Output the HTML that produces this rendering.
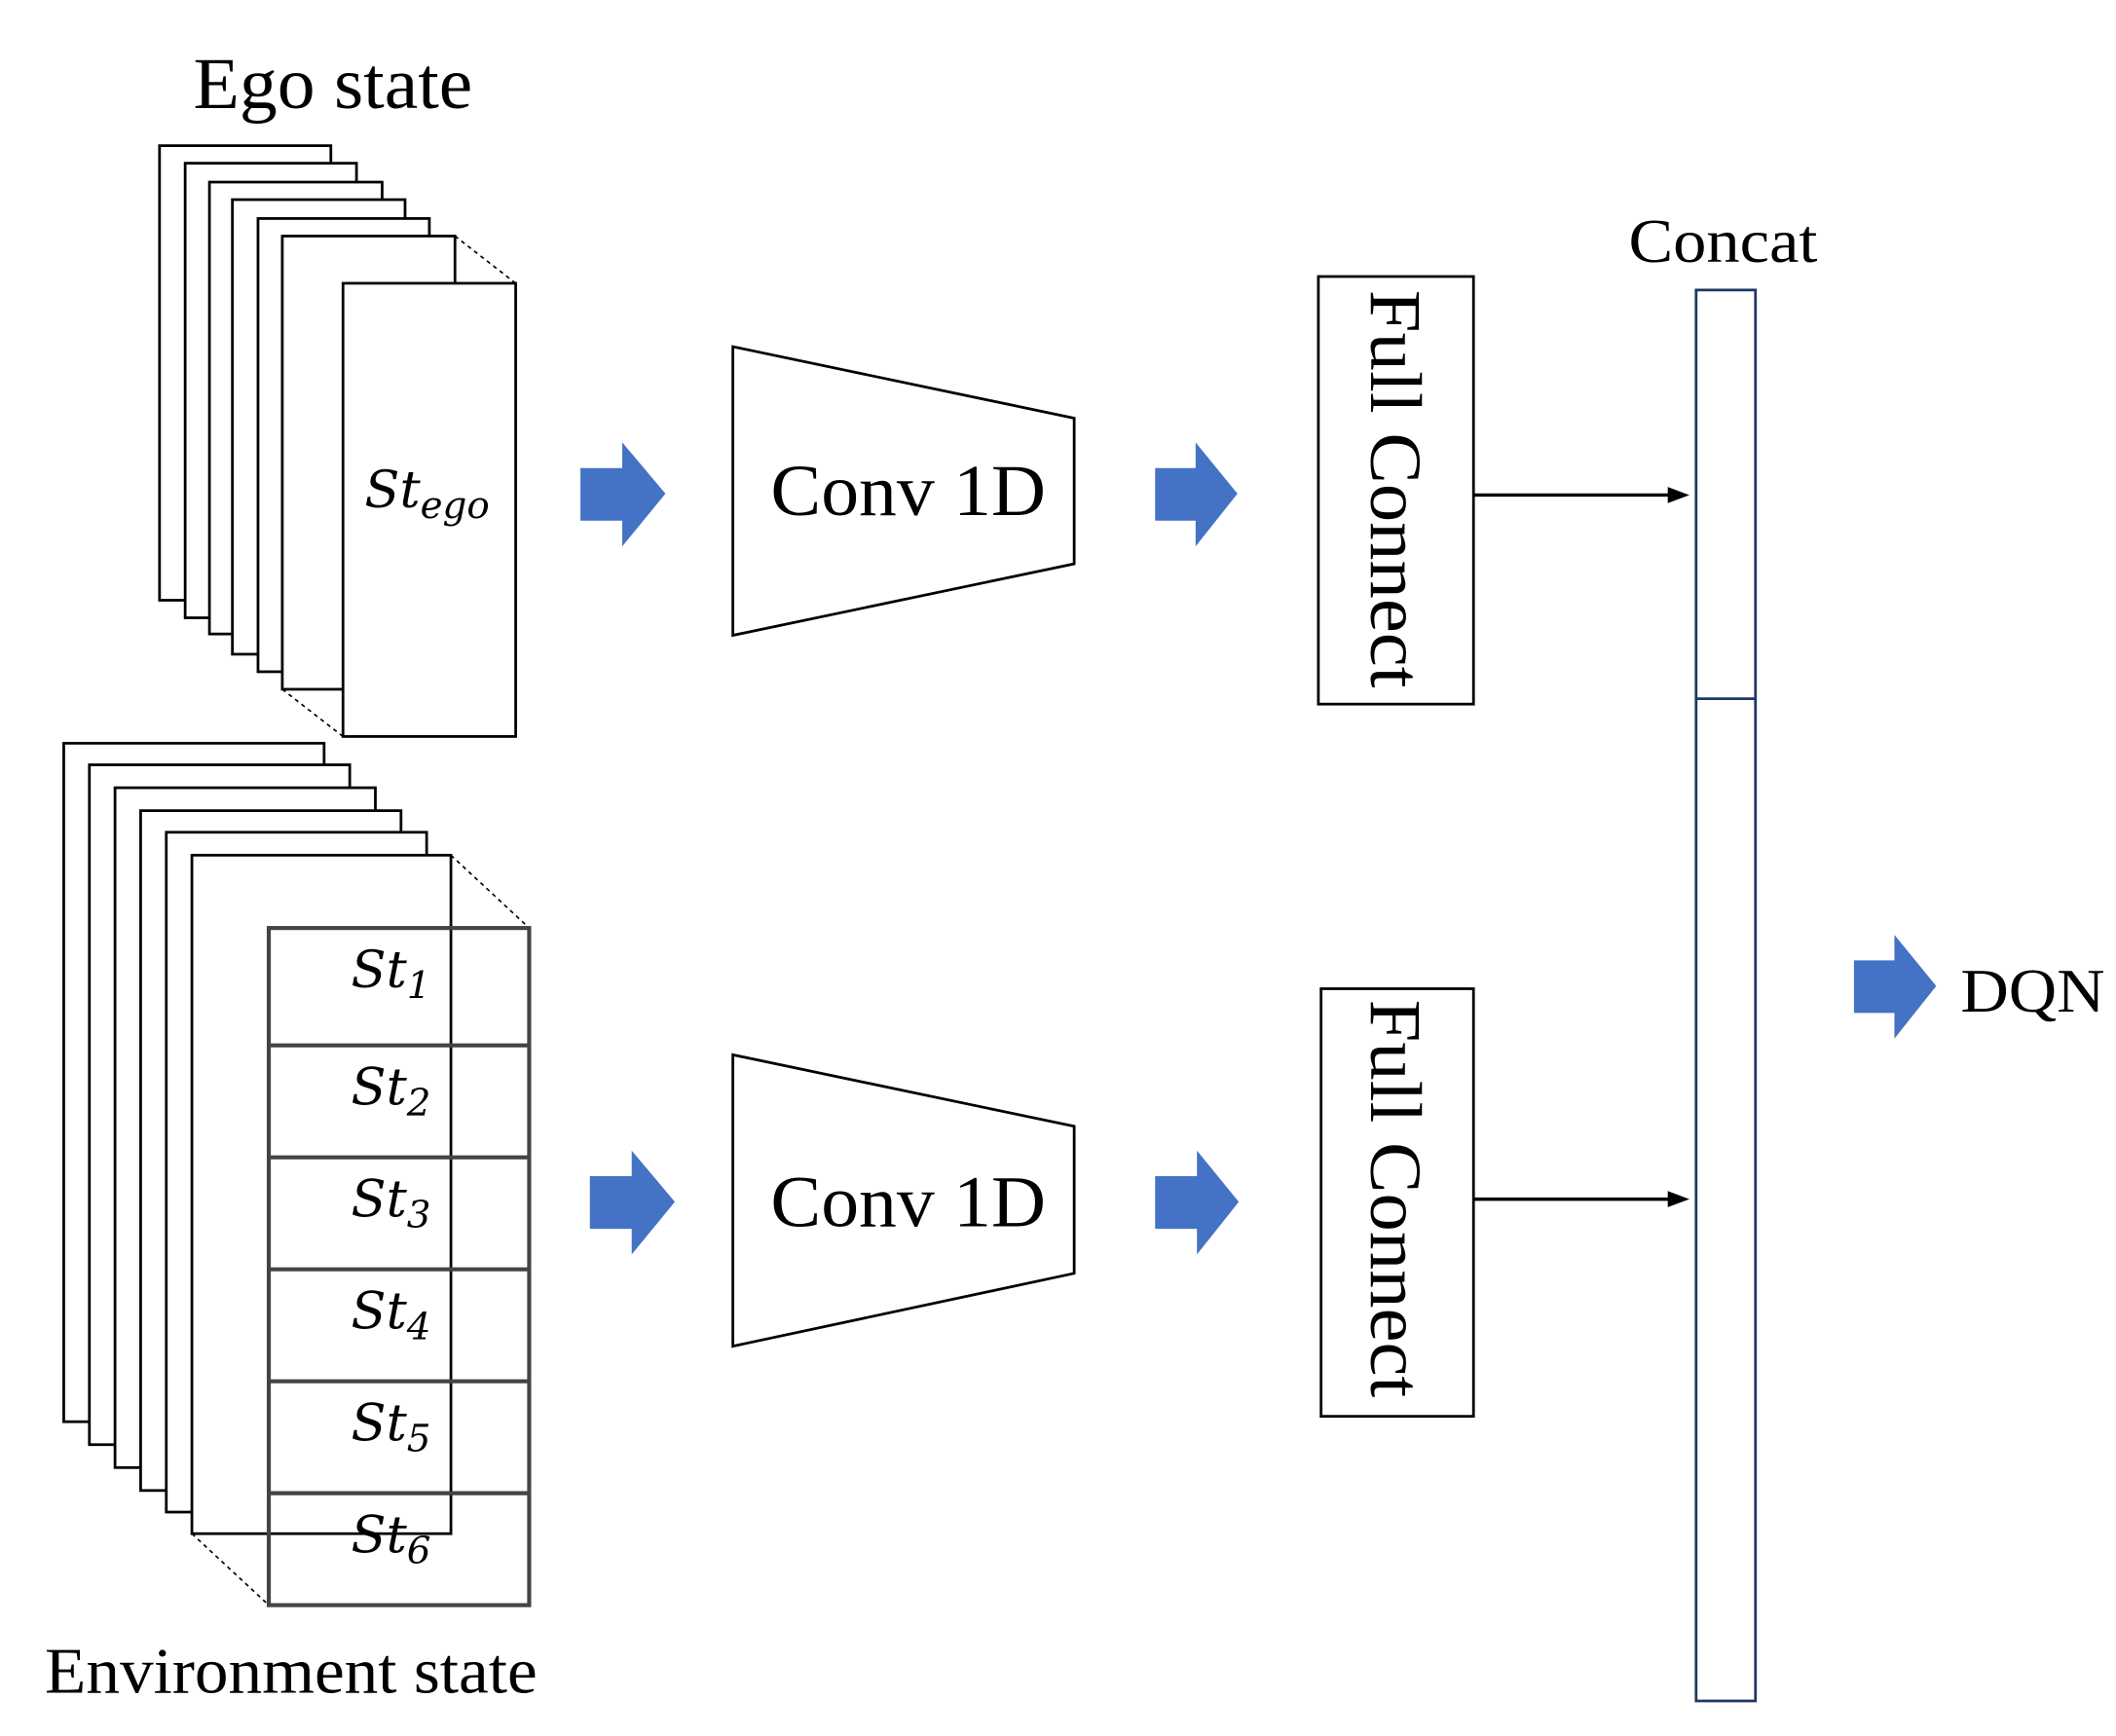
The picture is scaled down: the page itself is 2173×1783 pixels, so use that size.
<!DOCTYPE html>
<html><head><meta charset="utf-8"><style>html,body{margin:0;padding:0;background:#fff}svg{display:block}</style></head>
<body>
<svg width="2173" height="1783" viewBox="0 0 1568 1287" xmlns="http://www.w3.org/2000/svg" font-family="Liberation Serif, serif">
<rect width="1568" height="1287" fill="#fff"/>
<text x="143" y="80" font-size="54" textLength="207" lengthAdjust="spacingAndGlyphs">Ego state</text>
<g fill="#fff" stroke="#000" stroke-width="2">
<rect x="118" y="108" width="127" height="337"/>
<rect x="137" y="121" width="127" height="337"/>
<rect x="155" y="135" width="128" height="335"/>
<rect x="172" y="148" width="128" height="337"/>
<rect x="191" y="162" width="127" height="336"/>
<rect x="209" y="175" width="128" height="336"/>
<rect x="254" y="210" width="128" height="336"/>
</g>
<g stroke="#000" stroke-width="1.2" stroke-dasharray="3,3">
<line x1="337" y1="175" x2="382" y2="210"/><line x1="209" y1="511" x2="254" y2="546"/>
</g>
<text x="270" y="376" font-size="38" font-style="italic" font-family="DejaVu Serif, serif">St<tspan font-size="28" dy="8">ego</tspan></text>

<g fill="#fff" stroke="#000" stroke-width="2">
<rect x="47" y="551" width="193" height="503"/>
<rect x="66" y="567" width="193" height="504"/>
<rect x="85" y="584" width="193" height="504"/>
<rect x="104" y="601" width="193" height="504"/>
<rect x="123" y="617" width="193" height="504"/>
<rect x="142" y="634" width="192" height="503"/>
</g>
<g stroke="#000" stroke-width="1.2" stroke-dasharray="3,3">
<line x1="334" y1="634" x2="392" y2="688"/><line x1="142" y1="1137" x2="199" y2="1190"/>
</g>
<g fill="none" stroke="#444" stroke-width="3">
<rect x="199" y="688" width="193" height="502"/>
<line x1="199" y1="775" x2="392" y2="775"/><line x1="199" y1="858" x2="392" y2="858"/>
<line x1="199" y1="941" x2="392" y2="941"/><line x1="199" y1="1024" x2="392" y2="1024"/>
<line x1="199" y1="1107" x2="392" y2="1107"/>
</g>
<g font-size="38" font-style="italic" font-family="DejaVu Serif, serif">
<text x="260" y="732">St<tspan font-size="28" dy="8">1</tspan></text>
<text x="260" y="819">St<tspan font-size="28" dy="8">2</tspan></text>
<text x="260" y="902">St<tspan font-size="28" dy="8">3</tspan></text>
<text x="260" y="985">St<tspan font-size="28" dy="8">4</tspan></text>
<text x="260" y="1068">St<tspan font-size="28" dy="8">5</tspan></text>
<text x="260" y="1151">St<tspan font-size="28" dy="8">6</tspan></text>
</g>
<text x="33" y="1255" font-size="48" textLength="365" lengthAdjust="spacingAndGlyphs">Environment state</text>

<g fill="#4472C4">
<polygon points="430,347 461,347 461,328 493,366 461,405 461,386 430,386"/>
<polygon points="856,347 886,347 886,328 917,366 886,405 886,386 856,386"/>
<polygon points="437,872 468,872 468,853 500,891 468,930 468,911 437,911"/>
<polygon points="856,872 887,872 887,853 918,891 887,930 887,911 856,911"/>
<polygon points="1374,712 1404,712 1404,693 1435,731 1404,770 1404,751 1374,751"/>
</g>
<g fill="#fff" stroke="#000" stroke-width="2">
<polygon points="543,257 796,310 796,418 543,471"/>
<polygon points="543,782 796,835 796,944 543,998"/>
<rect x="977" y="205" width="115" height="317"/>
<rect x="979" y="733" width="113" height="317"/>
</g>
<text x="571" y="382" font-size="54" textLength="204" lengthAdjust="spacingAndGlyphs">Conv 1D</text>
<text x="571" y="909" font-size="54" textLength="204" lengthAdjust="spacingAndGlyphs">Conv 1D</text>
<text transform="translate(1016,215) rotate(90)" font-size="54" textLength="295" lengthAdjust="spacingAndGlyphs">Full Connect</text>
<text transform="translate(1016,741) rotate(90)" font-size="54" textLength="295" lengthAdjust="spacingAndGlyphs">Full Connect</text>
<g stroke="#000" stroke-width="2.5"><line x1="1092" y1="367" x2="1238" y2="367"/><line x1="1092" y1="889" x2="1238" y2="889"/></g>
<polygon points="1236,361 1252,367 1236,373"/>
<polygon points="1236,883 1252,889 1236,895"/>
<g fill="#fff" stroke="#1F3864" stroke-width="2">
<rect x="1257" y="215" width="44" height="1046"/>
<line x1="1257" y1="518" x2="1301" y2="518"/>
</g>
<text x="1207" y="194" font-size="46" textLength="140" lengthAdjust="spacingAndGlyphs">Concat</text>
<text x="1453" y="750" font-size="46" textLength="107" lengthAdjust="spacingAndGlyphs">DQN</text>
</svg>
</body></html>
